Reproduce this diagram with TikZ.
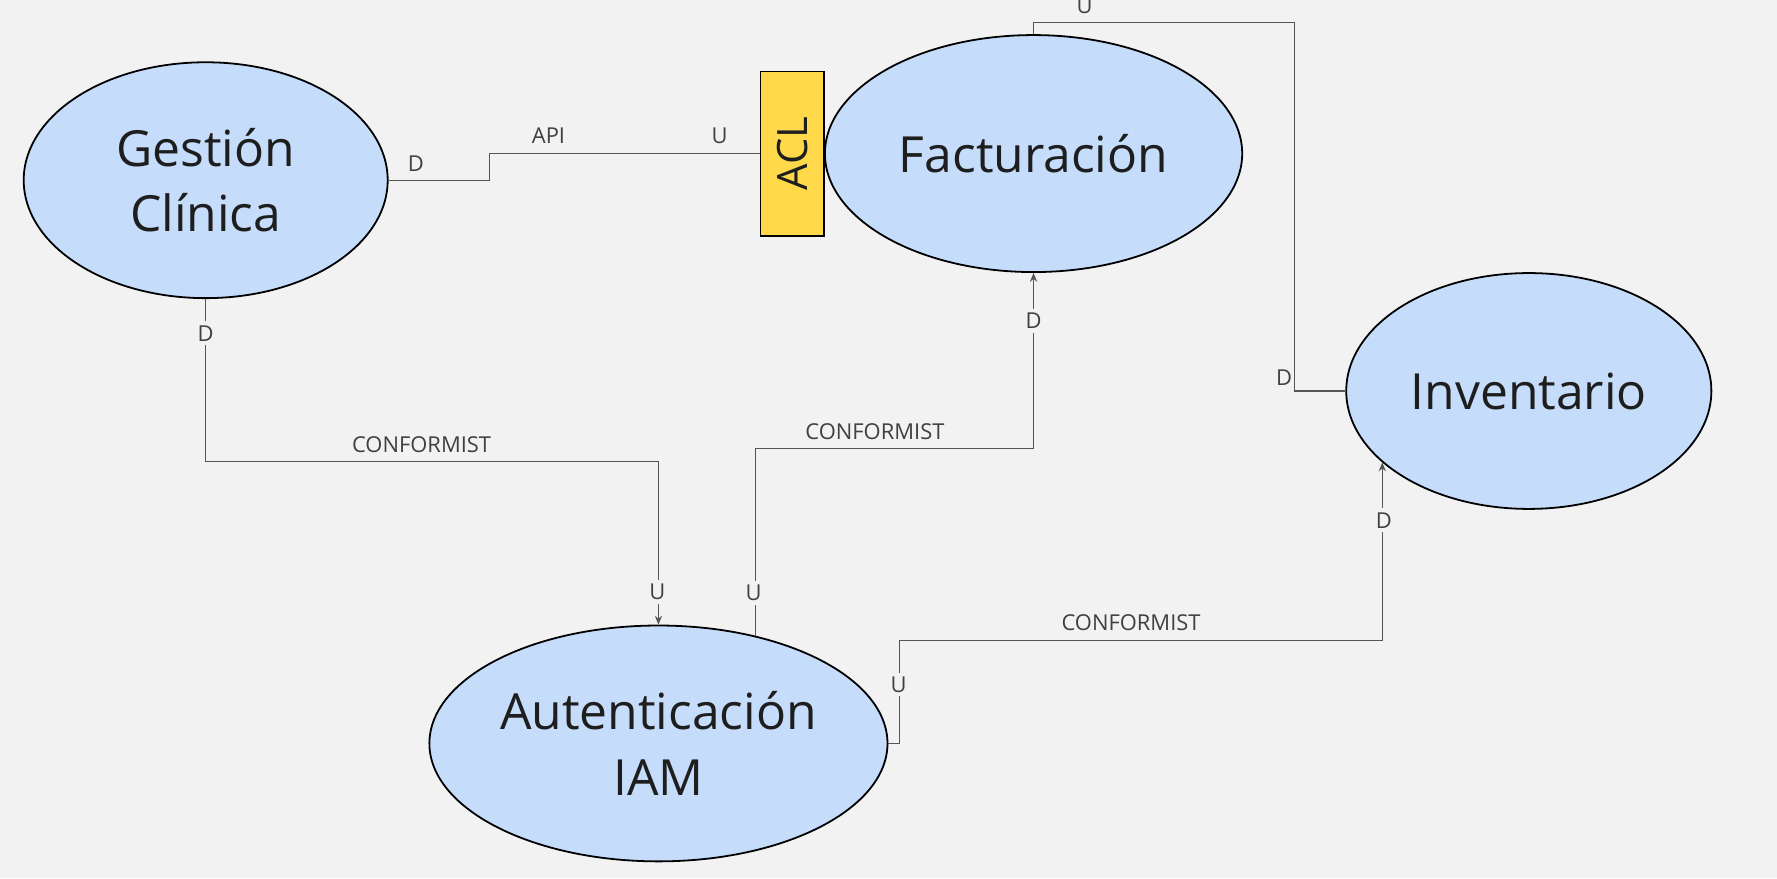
\documentclass[tikz,border=0pt]{standalone}
\usepackage{fontspec}
\setmainfont{Open Sans}
\usetikzlibrary{shapes.geometric,arrows.meta}

\definecolor{bgcol}{RGB}{242,242,242}
\definecolor{ctxblue}{RGB}{197,220,251}
\definecolor{aclyellow}{RGB}{255,217,74}
\definecolor{linegray}{RGB}{85,85,85}
\definecolor{txtcol}{RGB}{30,30,30}

\tikzset{
    ctx/.style={ellipse, draw=black, line width=0.45pt, fill=ctxblue, text=txtcol, align=center, inner sep=0pt, font=\fontsize{12.5}{16.5}\selectfont},
    rel/.style={draw=linegray, line width=0.3pt},
    relarrow/.style={rel, -{Stealth[length=2.2pt,width=1.8pt]}},
    lbl/.style={font=\fontsize{5.5}{6.6}\selectfont, text=txtcol!85, inner sep=0.5pt},
    vlbl/.style={lbl, fill=bgcol, inner sep=1pt}
}

\begin{document}
\begin{tikzpicture}[x=0.01cm, y=-0.01cm]
        \fill[bgcol] (0,0) rectangle (1568,775);
        \useasboundingbox (0,0) rectangle (1568,775);

        \node[ctx, minimum width=3.21cm, minimum height=2.08cm] (gc) at (181.5,159) {Gestión\\Clínica};
        \node[ctx, minimum width=3.68cm, minimum height=2.09cm] (fac) at (912,135.5) {Facturación};
        \node[ctx, minimum width=3.22cm, minimum height=2.08cm] (inv) at (1349,345) {Inventario};
        \node[ctx, minimum width=4.04cm, minimum height=2.08cm] (iam) at (581,656) {Autenticación\\IAM};
        \node[draw=black, line width=0.4pt, fill=aclyellow, minimum width=0.56cm, minimum height=1.45cm, inner sep=0pt] (acl) at (699,135.5) {};
        \node[rotate=90, text=txtcol, font=\fontsize{10.5}{12}\selectfont] (acltxt) at (acl.center) {ACL};

        \draw[rel] (gc.east) -| (432,147) |- (acl.west);
        \draw[relarrow] (gc.south) |- (381,407) -| (iam.north);
        \draw[relarrow] (iam.48) |- (790,396) -| (fac.south);
        \draw[relarrow] (iam.east) -- ++(10,0) |- (1000,565) -| (inv.206);
        \draw[rel] (fac.north) -- ++(0,-10) -| (1142,183) |- (inv.west);

        \node[lbl] (lD1) at (367,144) {D};
        \node[lbl] (lApi) at (484,120) {API};
        \node[lbl] (lU1) at (635,120) {U};
        \node[vlbl] (lD2) at (181.5,294) {D};
        \node[lbl] (lConf1) at (372,392) {CONFORMIST};
        \node[vlbl] (lU2) at (580,522) {U};
        \node[vlbl] (lU3) at (665,523) {U};
        \node[lbl] (lConf2) at (772,381) {CONFORMIST};
        \node[vlbl] (lD3) at (912,283) {D};
        \node[vlbl] (lU4) at (793,604) {U};
        \node[lbl] (lConf3) at (998,549) {CONFORMIST};
        \node[vlbl] (lD4) at (1221,459) {D};
        \node[lbl] (lU5) at (957,5) {U};
        \node[lbl] (lD5) at (1133,333) {D};
\end{tikzpicture}
\end{document}
